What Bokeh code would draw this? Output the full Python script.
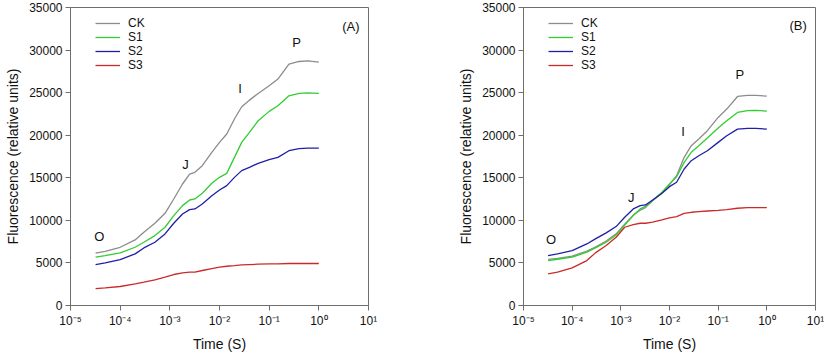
from bokeh.plotting import figure
from bokeh.layouts import row
from bokeh.models import Range1d, FixedTicker, Legend, LegendItem
from bokeh.core.properties import value
from bokeh.embed import file_html
from bokeh.resources import INLINE

# ---------------- data ----------------
time_s = [3.2e-5, 5e-5, 1e-4, 2e-4, 3e-4, 5e-4, 8e-4, 1.2e-3, 1.8e-3, 2.5e-3,
          3.2e-3, 4.5e-3, 7e-3, 1e-2, 1.4e-2, 2e-2, 2.8e-2, 4e-2, 6e-2, 0.1,
          0.15, 0.25, 0.4, 0.6, 1.0]

a_ck = [6140, 6370, 6840, 7700, 8600, 9660, 10830, 12510, 14270, 15440,
        15640, 16420, 17990, 19160, 20140, 21900, 23340, 24120, 24910, 25810,
        26590, 28350, 28660, 28740, 28580]
a_s1 = [5670, 5865, 6180, 6840, 7430, 8210, 9190, 10560, 11730, 12390,
        12510, 13180, 14350, 15050, 15520, 17400, 19160, 20330, 21700, 22800,
        23460, 24630, 24910, 24980, 24910]
a_s2 = [4810, 5000, 5400, 6060, 6760, 7430, 8410, 9660, 10750, 11260,
        11340, 11930, 12900, 13570, 14080, 15050, 15840, 16230, 16700, 17130,
        17400, 18180, 18420, 18490, 18490]
a_s3 = [1990, 2070, 2230, 2540, 2740, 3010, 3320, 3640, 3830, 3910,
        3910, 4110, 4340, 4500, 4610, 4690, 4770, 4810, 4850, 4890,
        4890, 4930, 4930, 4930, 4930]

b_ck = [5420, 5530, 5800, 6400, 6860, 7570, 8420, 9560, 10620, 11200,
        11500, 12300, 13180, 14190, 15250, 17400, 18770, 19550, 20530, 22090,
        23070, 24550, 24670, 24670, 24590]
b_s1 = [5280, 5430, 5670, 6260, 6760, 7430, 8290, 9460, 10560, 11340,
        11650, 12320, 13300, 14270, 15130, 16810, 17990, 18770, 19670, 20840,
        21700, 22680, 22880, 22910, 22830]
b_s2 = [5870, 6060, 6450, 7230, 7820, 8530, 9270, 10360, 11340, 11730,
        11810, 12400, 13180, 13960, 14470, 16030, 17010, 17590, 18180, 19160,
        19940, 20720, 20800, 20800, 20720]
b_s3 = [3710, 3910, 4420, 5280, 6180, 7040, 8020, 9190, 9500, 9660,
        9660, 9780, 10050, 10280, 10440, 10830, 10950, 11030, 11100, 11180,
        11260, 11420, 11500, 11500, 11500]

series_names = ["CK", "S1", "S2", "S3"]
series_colors = ["#8c8c8c", "#33cc33", "#1f1fa8", "#cc2a2a"]

x_ticks = [1e-5, 1e-4, 1e-3, 1e-2, 1e-1, 1.0, 10.0]
x_tick_labels = ["10\u207b\u2075", "10\u207b\u2074", "10\u207b\u00b3",
                 "10\u207b\u00b2", "10\u207b\u00b9", "10\u2070", "10\u00b9"]
y_ticks = [0, 5000, 10000, 15000, 20000, 25000, 30000, 35000]

# phase labels: (text, time, value)
a_marks = [("O", 3.8e-5, 8100), ("J", 2.07e-3, 16550), ("I", 0.026, 25480),
           ("P", 0.355, 30880), ("(A)", 4.4, 32750)]
b_marks = [("O", 3.7e-5, 7750), ("J", 1.64e-3, 12680), ("I", 0.019, 20430),
           ("P", 0.28, 27120), ("(B)", 4.4, 32870)]

FONT = "Liberation Sans"
AXC = "#6e6e6e"
FRAME_H = 298
TOP = 7
BOTTOM = 51


def make_panel(curves, marks, width, left, right):
    p = figure(x_axis_type="log", output_backend="svg", toolbar_location=None,
               width=width, height=TOP + FRAME_H + BOTTOM,
               min_border_left=left, min_border_right=right,
               min_border_top=TOP, min_border_bottom=BOTTOM,
               x_range=Range1d(1e-5, 10), y_range=Range1d(0, 35000))
    p.grid.visible = False
    p.outline_line_color = AXC
    p.outline_line_width = 1
    p.background_fill_color = "white"
    p.border_fill_color = "white"

    for ax in (p.xaxis[0], p.yaxis[0]):
        ax.axis_line_color = AXC
        ax.major_tick_line_color = AXC
        ax.major_tick_out = 5
        ax.major_tick_in = 0
        ax.minor_tick_out = 0
        ax.minor_tick_in = 0
        ax.minor_tick_line_color = None
        ax.major_label_text_font = FONT
        ax.major_label_text_font_size = "12px"
        ax.major_label_text_color = "#111111"
        ax.axis_label_text_font = FONT
        ax.axis_label_text_font_size = "14px"
        ax.axis_label_text_font_style = "normal"
        ax.axis_label_text_color = "#111111"
        ax.major_label_standoff = 3
        ax.axis_label_standoff = 5

    p.xaxis.ticker = FixedTicker(ticks=x_ticks)
    p.xaxis.major_label_overrides = dict(zip(x_ticks, x_tick_labels))
    p.yaxis.ticker = FixedTicker(ticks=y_ticks)
    p.xaxis.axis_label = "Time (S)"
    p.yaxis.axis_label = "Fluorescence (relative units)"

    items = []
    for name, color, vals in zip(series_names, series_colors, curves):
        r = p.line(time_s, vals, line_color=color, line_width=1.3)
        items.append(LegendItem(label=name, renderers=[r]))

    legend = Legend(items=items, location=(25, FRAME_H - 9 - 56),
                    border_line_color=None, background_fill_alpha=0,
                    padding=0, margin=0, spacing=0,
                    glyph_width=25, glyph_height=14, label_height=14,
                    label_standoff=8,
                    label_text_font=FONT, label_text_font_size="12px",
                    label_text_color="#111111")
    p.add_layout(legend)

    txt = [m[0] for m in marks]
    tx = [m[1] for m in marks]
    ty = [m[2] for m in marks]
    p.text(tx, ty, text=txt, text_font=value(FONT), text_font_size="13px",
           text_align="center", text_baseline="middle", text_color="#111111")
    return p


pa = make_panel([a_ck, a_s1, a_s2, a_s3], a_marks, 455, 70, 87)
pb = make_panel([b_ck, b_s1, b_s2, b_s3], b_marks, 369, 62, 9)

layout = row(pa, pb, spacing=0)
open("out.html", "w").write(file_html(layout, INLINE))
